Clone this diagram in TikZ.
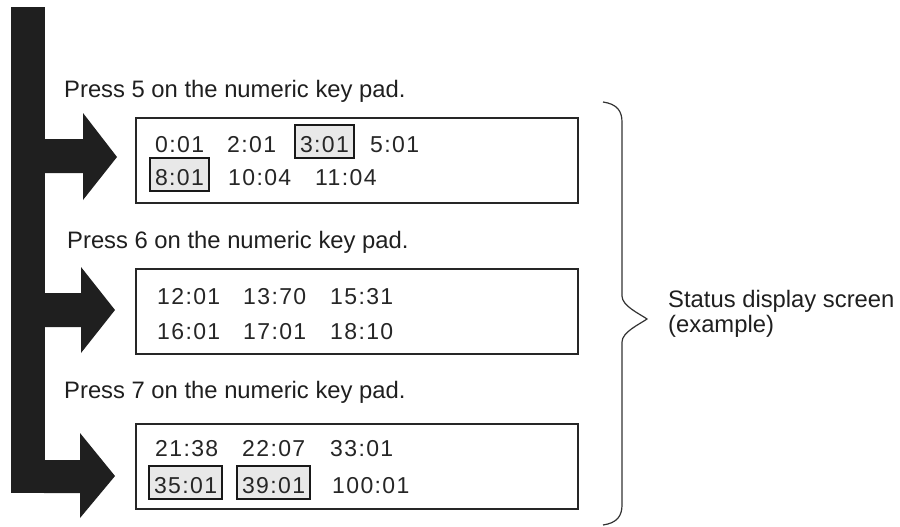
\documentclass[tikz,border=0pt]{standalone}
\usepackage{fontspec}
\setmainfont{Liberation Sans}
\newfontfamily\lcdfont[LetterSpace=6]{Liberation Sans}
\begin{document}
\begin{tikzpicture}[x=1pt,y=-1pt,
  blk/.style={fill=black!88, draw=none},
  screen/.style={draw=black!85, line width=1.5pt, fill=white, minimum width=442pt, minimum height=85pt, anchor=north west, inner sep=0pt},
  lbl/.style={font=\fontsize{23.8}{25}\selectfont, anchor=base west, inner sep=0pt, text=black!88},
  tok/.style={font=\lcdfont\fontsize{23}{26}\selectfont, anchor=base west, inner sep=0pt, text=black!85},
  hl/.style={tok, draw=black!90, line width=2pt, fill=black!9, inner xsep=5pt, inner ysep=0pt, text height=27pt, text depth=6pt},
  brc/.style={draw=black!80, line width=1.2pt},
]
\useasboundingbox (0,0) rectangle (900,527);
% big arrows
\fill[blk] (11,7) rectangle (45,493);
\fill[blk] (44,139) -- (83,139) -- (83,113) -- (117,157) -- (83,200) -- (83,173) -- (44,173) -- cycle;
\fill[blk] (44,293) -- (81,293) -- (81,267) -- (115,310) -- (81,353) -- (81,327) -- (44,327) -- cycle;
\fill[blk] (44,460) -- (80,460) -- (80,433) -- (115,476) -- (80,518) -- (80,493) -- (44,493) -- cycle;
% labels
\node[lbl] (p5) at (64,98) {Press 5 on the numeric key pad.};
\node[lbl] (p6) at (67,248) {Press 6 on the numeric key pad.};
\node[lbl] (p7) at (64,398) {Press 7 on the numeric key pad.};
% screens
\node[screen] (s1) at (135,117) {};
\node[screen] (s2) at (135,268) {};
\node[screen] (s3) at (135,423) {};
% screen 1
\node[tok] (a1) at (155,152) {0:01};
\node[tok] (a2) at (227,152) {2:01};
\node[hl]  (a3) at (294,152) {3:01};
\node[tok] (a4) at (370,152) {5:01};
\node[hl]  (a5) at (149,185) {8:01};
\node[tok] (a6) at (228,185) {10:04};
\node[tok] (a7) at (315,185) {11:04};
% screen 2
\node[tok] (b1) at (157,304) {12:01};
\node[tok] (b2) at (243,304) {13:70};
\node[tok] (b3) at (330,304) {15:31};
\node[tok] (b4) at (157,339) {16:01};
\node[tok] (b5) at (243,339) {17:01};
\node[tok] (b6) at (330,339) {18:10};
% screen 3
\node[tok] (c1) at (155,456) {21:38};
\node[tok] (c2) at (242,456) {22:07};
\node[tok] (c3) at (330,456) {33:01};
\node[hl]  (c4) at (148,493) {35:01};
\node[hl]  (c5) at (236,493) {39:01};
\node[tok] (c6) at (332,493) {100:01};
% brace
\draw[brc] (603,102) .. controls (617,104) and (622,111) .. (622,122) -- (622,296)
  .. controls (622,306) and (640,314) .. (647,319)
  .. controls (640,324) and (622,332) .. (622,342) -- (622,505)
  .. controls (622,516) and (617,523) .. (603,525);
\node[lbl, align=left, anchor=base west] (st) at (668,332) {Status display screen\\(example)};
\end{tikzpicture}
\end{document}
